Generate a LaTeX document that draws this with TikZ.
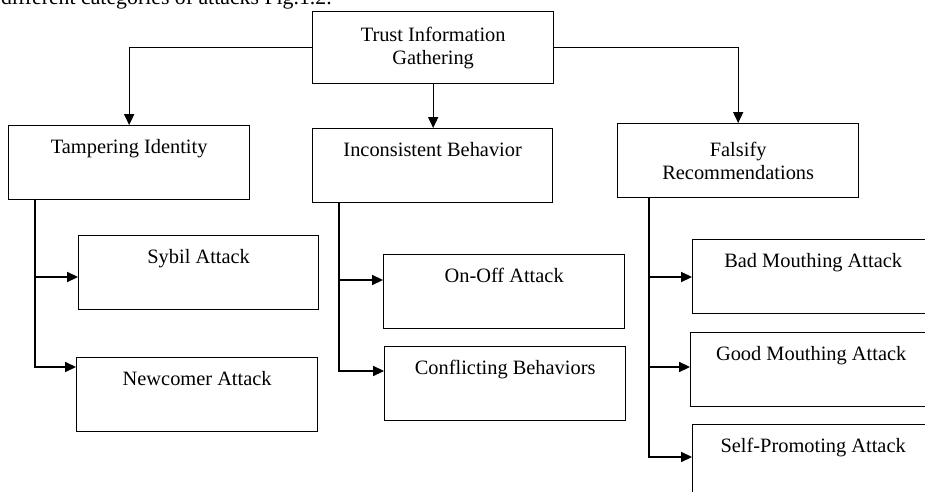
\documentclass[tikz,border=0pt]{standalone}
\usepackage{fontspec}
\setmainfont{Liberation Serif}
\usepackage{tikz}
\usetikzlibrary{positioning,calc,arrows.meta}

\begin{document}
\begin{tikzpicture}[x=0.025cm,y=-0.025cm,
   box/.style={draw,line width=0.9pt,anchor=north west,minimum width=6.025cm,inner ysep=0.1cm,
               text height=0.6cm,text depth=1.05cm,align=center,
               font=\fontsize{14.5}{17}\selectfont},
   headbox/.style={draw,line width=0.9pt,anchor=north west,minimum width=6.025cm,minimum height=1.85cm,
               align=center,font=\fontsize{14.5}{16.5}\selectfont},
   arr/.style={-{Triangle[length=2.7mm,width=2.5mm]},line width=0.9pt}]
  \useasboundingbox (0,0) rectangle (925,492);
  \clip (0,0) rectangle (925,492);
  \node[anchor=base east,inner sep=0pt,font=\fontsize{15.5}{18}\selectfont] (cap) at (332,5)
        {different categories of attacks Fig.1.2.};
  \node[headbox,minimum height=1.8cm] (tig) at (312,11) {Trust Information\\Gathering};
  \node[box] (ti) at (8,125) {Tampering Identity};
  \node[box,minimum width=6cm] (ib) at (312,128) {Inconsistent Behavior};
  \node[headbox] (fr) at (617,123) {Falsify\\Recommendations};
  \node[box,minimum width=6cm] (sy) at (78,235) {Sybil Attack};
  \node[box] (nc) at (76,357) {Newcomer Attack};
  \node[box] (oo) at (383,254) {On-Off Attack};
  \node[box] (cb) at (384,346) {Conflicting Behaviors};
  \node[box] (bm) at (692,239) {Bad Mouthing Attack};
  \node[box] (gm) at (690,332) {Good Mouthing Attack};
  \node[box] (sp) at (692,424) {Self-Promoting Attack};
  \draw[arr] (tig.west) -| (ti.north);
  \draw[arr] (tig.south) -- (tig.south |- ib.north);
  \draw[arr] (tig.east) -| (fr.north);
  \coordinate (tl) at ($(ti.south west)+(27,0)$);
  \coordinate (ml) at ($(ib.south west)+(27,0)$);
  \coordinate (rl) at ($(fr.south west)+(32,0)$);
  \coordinate (sya) at ($(sy.north west)+(0,42)$);
  \coordinate (nca) at ($(nc.north west)+(0,10)$);
  \coordinate (ooa) at ($(oo.north west)+(0,26)$);
  \coordinate (cba) at ($(cb.north west)+(0,25)$);
  \coordinate (bma) at ($(bm.north west)+(0,38)$);
  \coordinate (gma) at ($(gm.north west)+(0,35)$);
  \coordinate (spa) at ($(sp.north west)+(0,33)$);
  \draw[arr] (tl) |- (nca);
  \draw[arr] (sya -| tl) -- (sya);
  \draw[arr] (ml) |- (cba);
  \draw[arr] (ooa -| ml) -- (ooa);
  \draw[arr] (rl) |- (spa);
  \draw[arr] (bma -| rl) -- (bma);
  \draw[arr] (gma -| rl) -- (gma);
\end{tikzpicture}
\end{document}
